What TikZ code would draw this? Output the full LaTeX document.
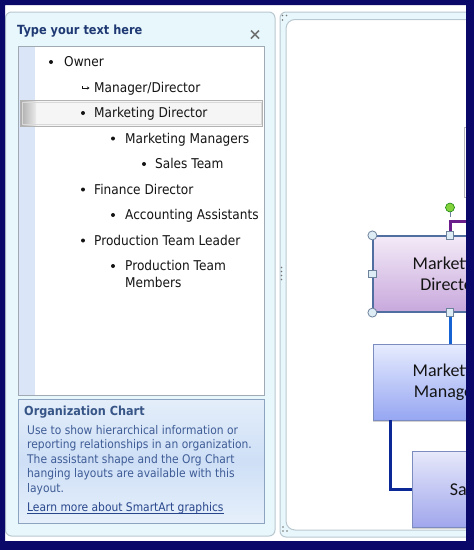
\documentclass[tikz,border=0pt]{standalone}
\usepackage{fontspec}
\setmainfont{DejaVu Sans}[FakeStretch=0.9]
\newfontfamily\boxfont{Carlito}
\usetikzlibrary{arrows.meta,shadows}
\definecolor{navy}{RGB}{10,8,105}
\definecolor{panelbg}{RGB}{232,247,251}
\definecolor{panelborder}{RGB}{185,200,208}
\definecolor{titleblue}{RGB}{30,57,115}
\definecolor{listborder}{RGB}{160,170,180}
\definecolor{stripblue}{RGB}{218,230,248}
\definecolor{infotop}{RGB}{228,238,250}
\definecolor{infomid}{RGB}{206,223,246}
\definecolor{infobot}{RGB}{230,240,251}
\definecolor{infoborder}{RGB}{140,164,192}
\definecolor{infotitle}{RGB}{55,85,135}
\definecolor{infotext}{RGB}{62,92,150}
\definecolor{linkblue}{RGB}{40,70,140}
\definecolor{mdtop}{RGB}{243,234,247}
\definecolor{mdbot}{RGB}{200,168,220}
\definecolor{mdborder}{RGB}{80,110,160}
\definecolor{mmtop}{RGB}{230,236,254}
\definecolor{mmbot}{RGB}{150,166,242}
\definecolor{mmborder}{RGB}{125,140,190}
\definecolor{satop}{RGB}{230,232,250}
\definecolor{sabot}{RGB}{160,166,236}
\definecolor{purpleline}{RGB}{105,30,140}
\definecolor{blueline}{RGB}{22,100,212}
\definecolor{darkline}{RGB}{12,40,150}
\definecolor{greenh}{RGB}{130,210,60}
\definecolor{handlef}{RGB}{222,236,246}
\definecolor{handleb}{RGB}{110,130,155}
\definecolor{textdark}{RGB}{20,20,20}
\tikzset{
  item/.style={anchor=base west, inner sep=0pt, font=\fontsize{13.5}{16}\selectfont, text=textdark},
  infoline/.style={anchor=base west, inner sep=0pt, font=\fontsize{11.9}{14}\selectfont, text=infotext},
  bul/.style={fill=textdark},
  orgbox/.style={rectangle, minimum width=154pt, minimum height=76pt, inner sep=0pt,
    align=center, font=\boxfont\fontsize{18}{21}\selectfont, text=textdark},
  handlec/.style={circle, draw=handleb, fill=handlef, minimum size=9pt, inner sep=0pt, line width=0.8pt},
  handles/.style={rectangle, draw=handleb, fill=handlef, minimum size=7.5pt, inner sep=0pt, line width=0.8pt},
  conn/.style={line width=3pt},
  dotg/.style={fill=black!55}
}
\begin{document}
\begin{tikzpicture}[x=1pt,y=-1pt]
\useasboundingbox (0,0) rectangle (474,550);
\fill[white] (0,0) rectangle (474,550);
% ---------- left panel
\draw[panelborder, fill=panelbg, rounded corners=6pt, line width=1pt] (5.5,12) rectangle (275,536);
\node[anchor=base west, inner sep=0pt, font=\bfseries\fontsize{12.6}{15}\selectfont, text=titleblue] (title) at (17,34.5) {Type your text here};
\coordinate (xa) at (251,30.5); \coordinate (xb) at (259,38.5);
\coordinate (xc) at (251,38.5); \coordinate (xd) at (259,30.5);
\draw[black!55, line width=1.7pt] (xa) -- (xb) (xc) -- (xd);
% list box
\draw[listborder, fill=white, line width=0.8pt] (18.5,46.5) rectangle (264.5,395.5);
\fill[stripblue] (19,47) rectangle (35,395);
% selected row
\draw[black!30, fill=black!4, line width=0.8pt] (20.5,100.5) rectangle (262.5,126);
\shade[left color=black!32, right color=black!8] (21,101) rectangle (36,125.5);
\draw[black!15, line width=0.6pt] (22,102) rectangle (261,124.5);
% items
\fill[bul] (51,62) circle (2pt);
\node[item] (i1) at (64,66.7) {Owner};
\draw[textdark, line width=0.6pt, -{Stealth[length=2.5pt,width=3pt]}] (82,86) -- (82,88) -- (89.5,88);
\node[item] (i2) at (94,92.2) {Manager/Director};
\fill[bul] (83,113) circle (2pt);
\node[item] (i3) at (94,117.7) {Marketing Director};
\fill[bul] (113,138.5) circle (2pt);
\node[item] (i4) at (125,143.2) {Marketing Managers};
\fill[bul] (144,164) circle (2pt);
\node[item] (i5) at (155,168.7) {Sales Team};
\fill[bul] (83,189.5) circle (2pt);
\node[item] (i6) at (94,194.2) {Finance Director};
\fill[bul] (113,215) circle (2pt);
\node[item] (i7) at (125,219.7) {Accounting Assistants};
\fill[bul] (83,240.5) circle (2pt);
\node[item] (i8) at (94,245.2) {Production Team Leader};
\fill[bul] (113,266) circle (2pt);
\node[item] (i9) at (125,270.7) {Production Team};
\node[item] (i10) at (125,287) {Members};
% info box
\shade[top color=infotop, bottom color=infobot, middle color=infomid] (18.5,399.5) rectangle (264.5,523.5);
\draw[infoborder, line width=0.8pt] (18.5,399.5) rectangle (264.5,523.5);
\node[anchor=base west, inner sep=0pt, font=\bfseries\fontsize{12.5}{15}\selectfont, text=infotitle] (it) at (24,415.5) {Organization Chart};
\node[infoline] (l1) at (27,434.2) {Use to show hierarchical information or};
\node[infoline] (l2) at (27,448.7) {reporting relationships in an organization.};
\node[infoline] (l3) at (27,463.3) {The assistant shape and the Org Chart};
\node[infoline] (l4) at (27,477.9) {hanging layouts are available with this};
\node[infoline] (l5) at (27,492.5) {layout.};
\node[infoline, text=linkblue] (link) at (27,511.5) {Learn more about SmartArt graphics};
\draw[linkblue, line width=0.6pt] ([yshift=-1.7pt]link.base west) -- ([yshift=-1.7pt]link.base east);
% ---------- right panel
\draw[panelborder, fill=panelbg, rounded corners=6pt, line width=1pt] (280,12) rectangle (490,537);
\draw[panelborder, fill=white, rounded corners=9pt, line width=1pt] (286,19.5) rectangle (490,530);
% grip dots
\foreach \p in {(282.5,15.5),(286.5,15.5),(282.5,20)} \fill[dotg] \p circle (0.9pt);
\foreach \p in {(283,527),(283,531),(287,531)} \fill[dotg] \p circle (0.9pt);
\foreach \q in {267.5,271.5,275.5,279.5} \fill[dotg] (281.5,\q) circle (0.8pt);
% ---------- org chart (clipped)
\begin{scope}
\clip (286,20) rectangle (466,530);
\node[draw=black!28, fill=white, minimum width=150pt, minimum height=70pt, anchor=north west, inner sep=0pt, line width=0.8pt] (ow) at (463.5,127) {};
\coordinate (pe) at (490,221);
\node[orgbox, draw=mmborder, top color=mmtop, bottom color=mmbot, drop shadow={opacity=0.35, shadow xshift=0pt, shadow yshift=-1.5pt}, line width=0.6pt] (mm) at (450,382) {Marketing\\Managers};
\node[orgbox, minimum width=156pt, draw=mmborder, top color=satop, bottom color=sabot, drop shadow={opacity=0.35, shadow xshift=0pt, shadow yshift=-1.5pt}, line width=0.6pt] (sa) at (490,489.5) {Sales Team};
\node[orgbox, draw=mdborder, top color=mdtop, bottom color=mdbot, line width=1.2pt] (md) at (450,274) {Marketing\\Director};
\draw[conn, purpleline] (md.north) |- (pe);
\draw[conn, blueline] (md.south) -- (mm.north);
\draw[conn, darkline] ([xshift=-60pt]mm.south) |- (sa.west);
\node[circle, fill=greenh, draw=green!45!black, line width=0.5pt, minimum size=9pt, inner sep=0pt] (rot) at (450,207.5) {};
\draw[handleb, line width=0.7pt] (rot) -- (450,217);
\node[handlec] (h1) at (md.north west) {};
\node[handlec] (h2) at (md.south west) {};
\node[handles] (h3) at (md.west) {};
\node[handles] (h4) at (md.north) {};
\node[handles] (h5) at (md.south) {};
\end{scope}
% ---------- navy frame
\fill[navy, even odd rule] (0,0) rectangle (474,550) (5,5) rectangle (466,541);
\end{tikzpicture}
\end{document}
